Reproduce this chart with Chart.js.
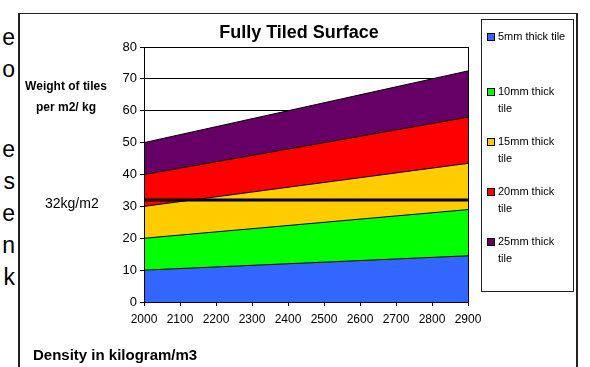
<!DOCTYPE html>
<html>
<head>
<meta charset="utf-8">
<title>Fully Tiled Surface</title>
<script src="https://cdn.jsdelivr.net/npm/chart.js@4/dist/chart.umd.min.js"></script>
<style>
body { margin:0; background:#fff; font-family:"Liberation Sans", Arial, sans-serif; }
#page { position:relative; width:590px; height:367px; overflow:hidden; background:#fff; }
#frame { position:absolute; left:18px; top:13px; width:556px; height:400px; border:1px solid #222; border-right-width:2px; border-left-width:2px; }
.side { position:absolute; right:575px; font-size:23px; line-height:23px; color:#000; }
#myChart { position:absolute; left:0; top:0; }
</style>
</head>
<body>
<div id="page">
  <!-- bits of the page text cut off at the left edge -->
  <div class="side" style="top:26px">e</div>
  <div class="side" style="top:58px">o</div>
  <div class="side" style="top:138px">e</div>
  <div class="side" style="top:170px">s</div>
  <div class="side" style="top:202px">e</div>
  <div class="side" style="top:234px">n</div>
  <div class="side" style="top:266px">k</div>
  <div id="frame"></div>
  <canvas id="myChart" width="590" height="367"></canvas>
</div>
<script>
// density in kilogram/m3
var densities = ["2000","2100","2200","2300","2400","2500","2600","2700","2800","2900"];

// weight of tiles per m2 in kg
var tile5mm  = [10, 10.5, 11, 11.5, 12, 12.5, 13, 13.5, 14, 14.5];
var tile10mm = [20, 21, 22, 23, 24, 25, 26, 27, 28, 29];
var tile15mm = [30, 31.5, 33, 34.5, 36, 37.5, 39, 40.5, 42, 43.5];
var tile20mm = [40, 42, 44, 46, 48, 50, 52, 54, 56, 58];
var tile25mm = [50, 52.5, 55, 57.5, 60, 62.5, 65, 67.5, 70, 72.5];

// the 32kg/m2 limit line
var limitLine = [32, 32, 32, 32, 32, 32, 32, 32, 32, 32];

var seriesNames = ["5mm thick tile","10mm thick tile","15mm thick tile","20mm thick tile","25mm thick tile"];
var seriesColors = ["#3366FF","#00FF00","#FFCC00","#FF0000","#660066"];

var yTicks = [0, 10, 20, 30, 40, 50, 60, 70, 80];

var fontName = "'Liberation Sans', Arial, sans-serif";

function areaSet(i, values)
{
    return {
        label: seriesNames[i],
        data: values,
        backgroundColor: seriesColors[i],
        borderColor: "#000",
        borderWidth: 1,
        fill: "origin",
        pointRadius: 0,
        tension: 0
    };
}

// draws the texts, the box round the plot and the legend
var extras = {
    id: "extras",
    afterDatasetsDraw: function(chart)
    {
        var ctx = chart.ctx;
        var a = chart.chartArea;
        ctx.save();
        ctx.strokeStyle = "#000";
        ctx.lineWidth = 1;
        ctx.beginPath();
        ctx.moveTo(a.left + 0.5, a.top);
        ctx.lineTo(a.left + 0.5, a.bottom + 0.5);
        ctx.lineTo(a.right + 0.5, a.bottom + 0.5);
        ctx.lineTo(a.right + 0.5, a.top);
        ctx.stroke();
        ctx.restore();
    },
    afterDraw: function(chart)
    {
        var ctx = chart.ctx;
        var y = chart.scales.y;
        ctx.save();
        ctx.fillStyle = "#000";
        ctx.textBaseline = "middle";

        // title
        ctx.font = "bold 18px " + fontName;
        ctx.textAlign = "center";
        ctx.fillText("Fully Tiled Surface", 299, 33);

        // y axis title
        ctx.font = "bold 12px " + fontName;
        ctx.fillText("Weight of tiles", 66, 87);
        ctx.fillText("per m2/ kg", 66, 108);

        // limit label
        ctx.font = "14px " + fontName;
        ctx.textAlign = "left";
        ctx.fillText("32kg/m2", 45, y.getPixelForValue(limitLine[0]) + 4);

        // x axis title
        ctx.font = "bold 15px " + fontName;
        ctx.fillText("Density in kilogram/m3", 33, 356);

        // legend box
        ctx.strokeStyle = "#222";
        ctx.lineWidth = 1;
        ctx.strokeRect(481.5, 19.5, 92, 272);

        ctx.font = "11px " + fontName;
        var tops = [37, 92, 142, 192, 242];
        for (var i = 0; i < seriesNames.length; i++)
        {
            var words = seriesNames[i].split(" ");
            var lines = [];
            var cur = "";
            for (var w = 0; w < words.length; w++)
            {
                var test = cur == "" ? words[w] : cur + " " + words[w];
                if (ctx.measureText(test).width > 70 && cur != "")
                {
                    lines.push(cur);
                    cur = words[w];
                }
                else
                    cur = test;
            }
            lines.push(cur);

            ctx.fillStyle = seriesColors[i];
            ctx.fillRect(488, tops[i] - 3, 6, 6);
            ctx.strokeStyle = "#000";
            ctx.strokeRect(487.5, tops[i] - 3.5, 7, 7);
            ctx.fillStyle = "#000";
            for (var l = 0; l < lines.length; l++)
                ctx.fillText(lines[l], 498, tops[i] + l * 17);
        }
        ctx.restore();
    }
};

function createChart()
{
    var ctx = document.getElementById("myChart");
    var myChart = new Chart(ctx, {
        type: "line",
        data: {
            labels: densities,
            datasets: [
                areaSet(0, tile5mm),
                areaSet(1, tile10mm),
                areaSet(2, tile15mm),
                areaSet(3, tile20mm),
                areaSet(4, tile25mm),
                {
                    label: "32kg/m2",
                    data: limitLine,
                    borderColor: "#000",
                    borderWidth: 3,
                    fill: false,
                    pointRadius: 0,
                    order: -1
                }
            ]
        },
        options: {
            responsive: false,
            animation: false,
            events: [],
            layout: { padding: { left: 0, top: 47, right: 122, bottom: 0 } },
            plugins: {
                legend: { display: false },
                title: { display: false },
                tooltip: { enabled: false }
            },
            scales: {
                x: {
                    offset: false,
                    afterFit: function(s) { s.height = 65; },
                    grid: { drawOnChartArea: false, color: "#000", tickLength: 4 },
                    border: { color: "#000" },
                    ticks: { color: "#000", font: { family: fontName, size: 12 }, padding: 6, maxRotation: 0, autoSkip: false }
                },
                y: {
                    min: 0,
                    max: 80,
                    afterFit: function(s) { s.width = 144; },
                    afterBuildTicks: function(s) { s.ticks = yTicks.map(function(v) { return { value: v }; }); },
                    grid: { color: "#000", tickLength: 4 },
                    border: { color: "#000" },
                    ticks: { color: "#000", font: { family: fontName, size: 13 }, padding: 3 }
                }
            }
        },
        plugins: [extras]
    });
}

createChart();
</script>
</body>
</html>
